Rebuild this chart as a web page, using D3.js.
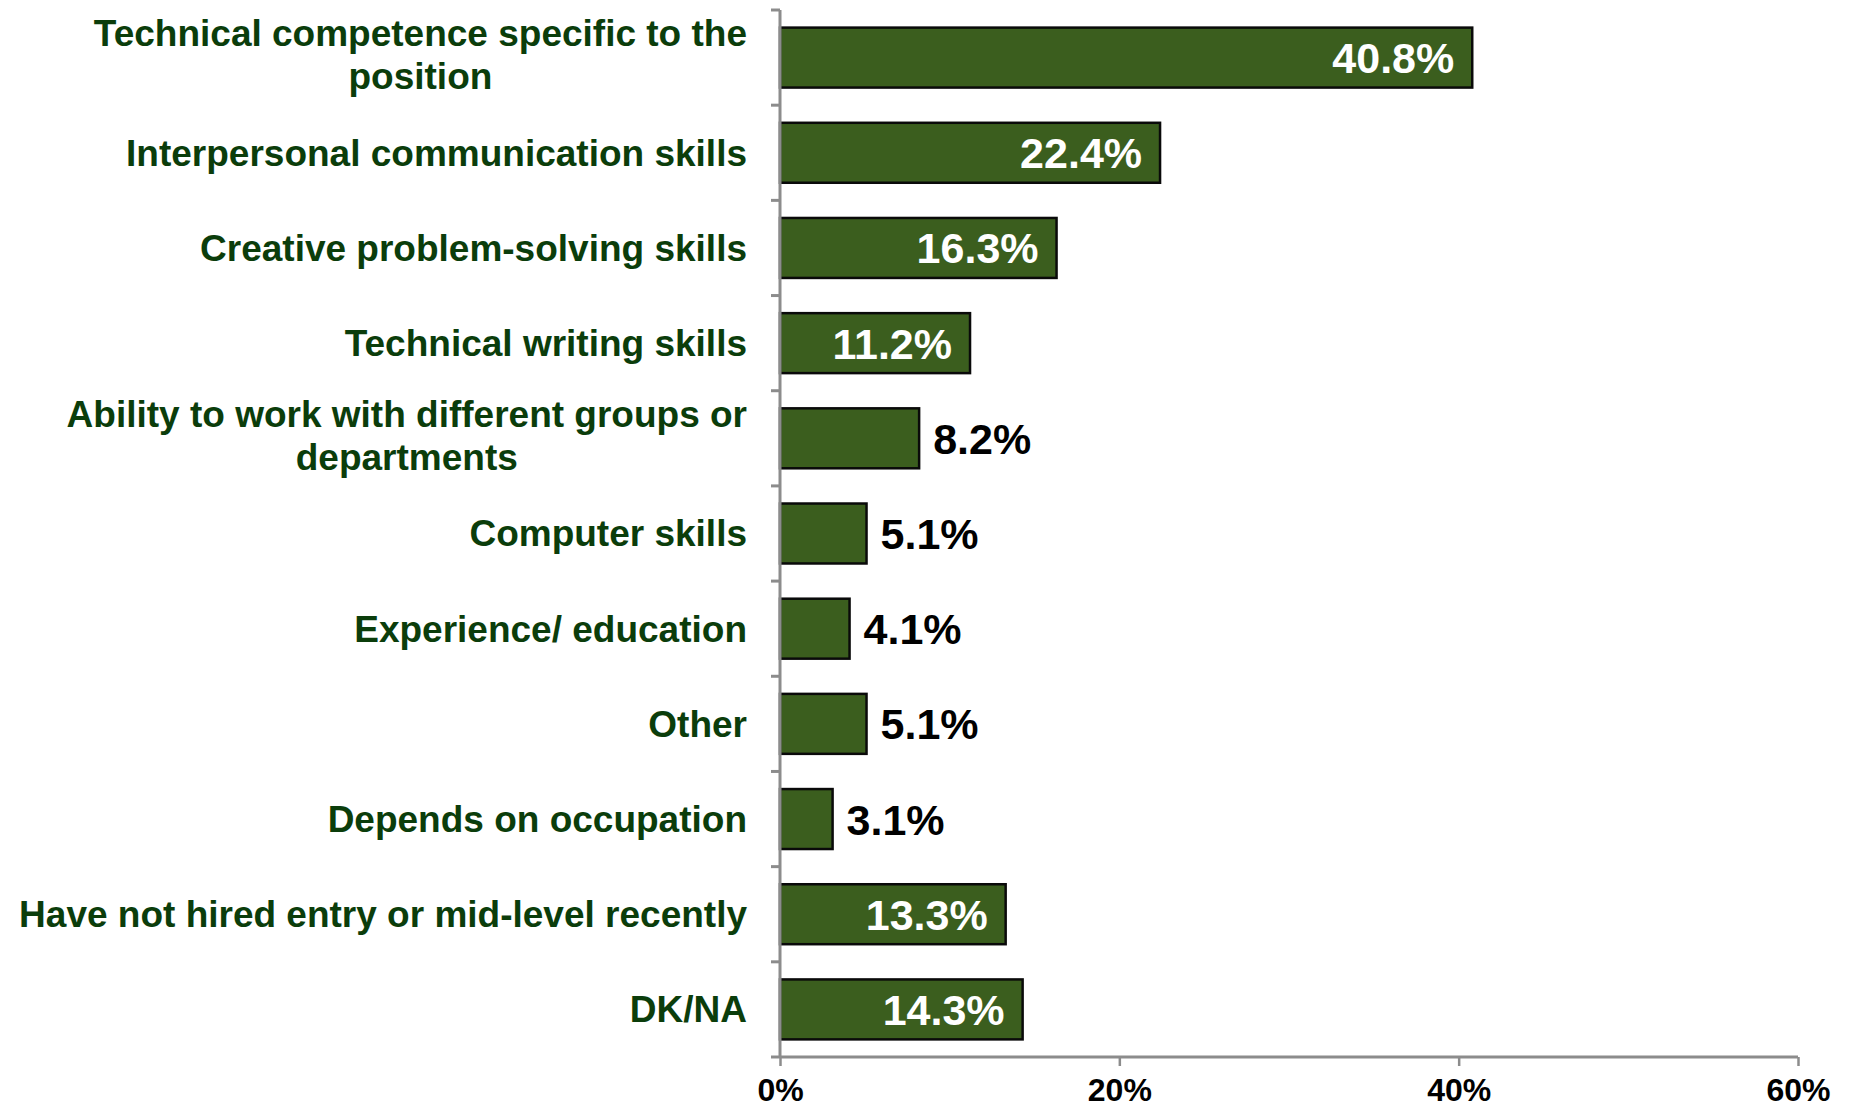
<!DOCTYPE html>
<html>
<head>
<meta charset="utf-8">
<script src="https://cdn.jsdelivr.net/npm/d3@7"></script>
<style>
  html, body { margin: 0; padding: 0; background: #ffffff; }
  svg { display: block; }
</style>
</head>
<body>
<svg id="chart" width="1851" height="1109"></svg>
<script>
// Most important skills sought when hiring, share of responses
const categories = [
  "Technical competence specific to the position",
  "Interpersonal communication skills",
  "Creative problem-solving skills",
  "Technical writing skills",
  "Ability to work with different groups or departments",
  "Computer skills",
  "Experience/ education",
  "Other",
  "Depends on occupation",
  "Have not hired entry or mid-level recently",
  "DK/NA"
];
const values = [40.8, 22.4, 16.3, 11.2, 8.2, 5.1, 4.1, 5.1, 3.1, 13.3, 14.3];
const xTicks = [0, 20, 40, 60];

const data = categories.map((c, i) => ({ category: c, value: values[i] }));

const svg = d3.select("#chart");
const plotLeft = 780, plotRight = 1798, plotTop = 10, plotBottom = 1057;
const font = "'Liberation Sans', Arial, Helvetica, sans-serif";

const x = d3.scaleLinear().domain([0, 60]).range([plotLeft, plotRight]);
const y = d3.scaleBand().domain(categories).range([plotTop, plotBottom])
  .paddingInner(0.37).paddingOuter(0.185);

const axisColor = "#8c8c8c";

// Bars
svg.append("g").selectAll("rect").data(data).join("rect")
  .attr("x", x(0))
  .attr("y", d => y(d.category))
  .attr("width", d => x(d.value) - x(0))
  .attr("height", y.bandwidth())
  .attr("fill", "#3b5e1e")
  .attr("stroke", "#0a0a0a")
  .attr("stroke-width", 2.5);

// Vertical category axis with ticks at band boundaries
const boundaries = categories.map(c => y(c) - (y.step() - y.bandwidth()) / 2);
boundaries.push(plotBottom);
const gy = svg.append("g");
gy.append("line")
  .attr("x1", plotLeft).attr("x2", plotLeft).attr("y1", plotTop).attr("y2", plotBottom)
  .attr("stroke", axisColor).attr("stroke-width", 3);
gy.selectAll("line.tick").data(boundaries).join("line")
  .attr("class", "tick")
  .attr("x1", plotLeft - 9).attr("x2", plotLeft).attr("y1", d => d).attr("y2", d => d)
  .attr("stroke", axisColor).attr("stroke-width", 3);

// Horizontal value axis
const gx = svg.append("g").attr("transform", `translate(0,${plotBottom})`)
  .call(d3.axisBottom(x).tickValues(xTicks).tickFormat(d => d + "%")
    .tickSize(9).tickPadding(12));
gx.select(".domain").attr("stroke", axisColor).attr("stroke-width", 3)
  .attr("d", `M${plotLeft},0H${plotRight}`);
gx.selectAll(".tick line").attr("stroke", axisColor).attr("stroke-width", 2.5);
gx.selectAll(".tick text")
  .attr("fill", "#000")
  .attr("font-family", font)
  .attr("font-weight", "bold")
  .attr("font-size", 32);

// Category labels, wrapped to fit the label column
const labelRight = 747;
const wrapWidth = 760;
const lineHeight = 43;
const labelSize = 37;
const labels = svg.append("g")
  .attr("font-family", font)
  .attr("font-weight", "bold")
  .attr("font-size", labelSize)
  .attr("fill", "#0b3d0b")
  .attr("text-anchor", "middle");

const measurer = svg.append("text")
  .attr("font-family", font).attr("font-weight", "bold").attr("font-size", labelSize)
  .attr("visibility", "hidden");
function measure(s) { measurer.text(s); return measurer.node().getComputedTextLength(); }

data.forEach(d => {
  const words = d.category.split(" ");
  const lines = [];
  let cur = "";
  words.forEach(w => {
    const test = cur ? cur + " " + w : w;
    if (cur && measure(test) > wrapWidth) { lines.push(cur); cur = w; }
    else cur = test;
  });
  lines.push(cur);
  const widths = lines.map(measure);
  const maxW = d3.max(widths);
  const cx = labelRight - maxW / 2;
  const cy = y(d.category) + y.bandwidth() / 2 - (lines.length > 1 ? 3 : 0);
  const t = labels.append("text").attr("x", cx);
  lines.forEach((ln, i) => {
    t.append("tspan")
      .attr("x", cx)
      .attr("y", cy + (i - (lines.length - 1) / 2) * lineHeight)
      .attr("dy", "0.35em")
      .text(ln);
  });
});
measurer.remove();

// Value labels: inside the bar (white) when it is long enough, otherwise after it
const insideMin = 10;
svg.append("g").selectAll("text").data(data).join("text")
  .attr("x", d => d.value >= insideMin ? x(d.value) - 18 : x(d.value) + 14)
  .attr("y", d => y(d.category) + y.bandwidth() / 2)
  .attr("dy", "0.36em")
  .attr("text-anchor", d => d.value >= insideMin ? "end" : "start")
  .attr("fill", d => d.value >= insideMin ? "#ffffff" : "#000000")
  .attr("font-family", font)
  .attr("font-weight", "bold")
  .attr("font-size", 43)
  .text(d => d.value.toFixed(1) + "%");
</script>
</body>
</html>
